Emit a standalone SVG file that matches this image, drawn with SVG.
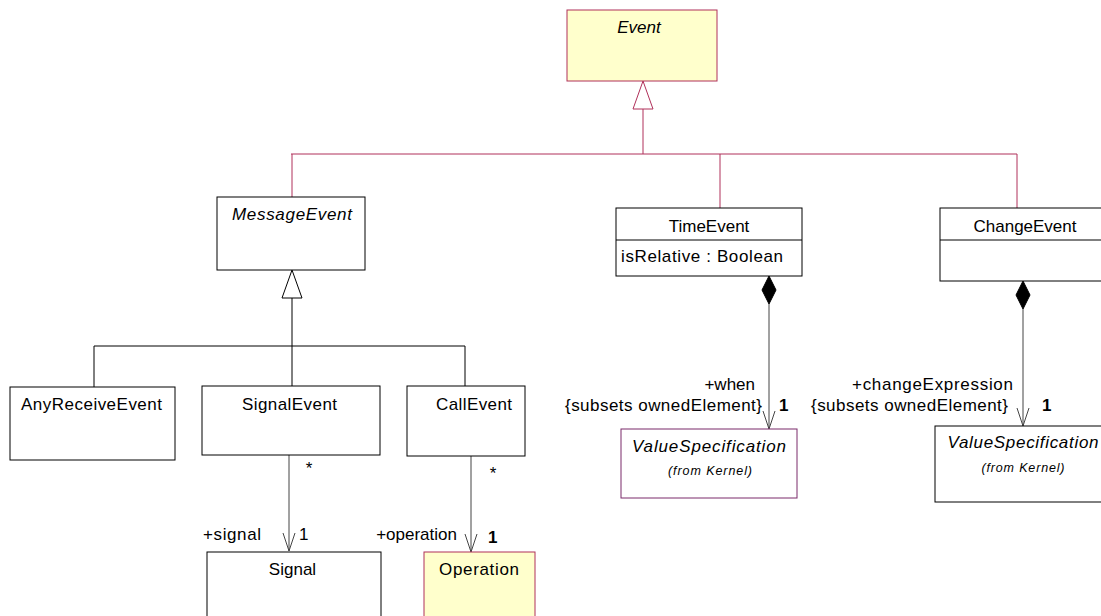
<svg xmlns="http://www.w3.org/2000/svg" width="1101" height="616" viewBox="0 0 1101 616">
<style>
text{font-family:"Liberation Sans",Arial,sans-serif;font-size:17px;fill:#000}
.it{font-style:italic}
.sm{font-size:12.5px;font-style:italic}
.b{font-weight:bold}
.mid{text-anchor:middle}
.end{text-anchor:end}
.box{fill:#fff;stroke:#000;stroke-width:1}
.ybox{fill:#ffffcc;stroke:#b0305a;stroke-width:1}
.pbox{fill:#fff;stroke:#7a2a6a;stroke-width:1}
.gen{fill:none;stroke:#b0305a;stroke-width:1}
.genk{fill:none;stroke:#000;stroke-width:1}
.tri{fill:#fff;stroke:#b0305a;stroke-width:1}
.trik{fill:#fff;stroke:#000;stroke-width:1}
.asc{fill:none;stroke:#444;stroke-width:1}
.dia{fill:#000;stroke:#000}
</style>
<rect width="1101" height="616" fill="#fff"/>
<g id="connectors">
<path class="gen" d="M643 109V154M291 154H1017M292 154V197M720 154V208M1017 154V208"/>
<polygon class="tri" points="643,81 633,109 653,109"/>
<path class="genk" d="M292 298V346M94 346H465M94 346V387M292 346V386M465 346V386"/>
<polygon class="trik" points="292,270 282,298 302,298"/>
<path class="asc" d="M289 455V551M283 533L289 551L295 533"/>
<path class="asc" d="M471 456V552M465 534L471 552L477 534"/>
<polygon class="dia" points="769,276 776,290 769,304 762,290"/>
<path class="asc" d="M769 304V429M763 411L769 429L775 411"/>
<polygon class="dia" points="1023,281 1030,295 1023,309 1016,295"/>
<path class="asc" d="M1023 309V426M1017 408L1023 426L1029 408"/>
<text x="309" y="474" class="mid">*</text>
<text x="493" y="479" class="mid">*</text>
<text x="203" y="540" textLength="58">+signal</text>
<text x="299" y="540">1</text>
<text x="457" y="540" class="end">+operation</text>
<text x="488" y="543" class="b">1</text>
<text x="755" y="390" class="end">+when</text>
<text x="762" y="411" class="end" textLength="197">{subsets ownedElement}</text>
<text x="779" y="411" class="b">1</text>
<text x="1013" y="390" class="end" textLength="161">+changeExpression</text>
<text x="1008" y="411" class="end" textLength="197">{subsets ownedElement}</text>
<text x="1042" y="411" class="b">1</text>
</g>
<g id="event">
<rect class="ybox" x="567" y="10" width="150" height="71"/>
<text x="639" y="33" class="it mid">Event</text>
</g>
<g id="messageevent">
<rect class="box" x="217" y="197" width="148" height="73"/>
<text x="292" y="220" class="it mid" textLength="120">MessageEvent</text>
</g>
<g id="timeevent">
<rect class="box" x="616" y="208" width="186" height="68"/>
<line x1="616" y1="240" x2="802" y2="240" stroke="#000"/>
<text x="709" y="232" class="mid">TimeEvent</text>
<text x="621" y="262" textLength="162">isRelative : Boolean</text>
</g>
<g id="changeevent">
<rect class="box" x="940" y="208" width="170" height="73"/>
<line x1="940" y1="240" x2="1110" y2="240" stroke="#000"/>
<text x="1025" y="232" class="mid">ChangeEvent</text>
</g>
<g id="anyreceiveevent">
<rect class="box" x="10" y="387" width="165" height="73"/>
<text x="91.5" y="410" class="mid" textLength="141">AnyReceiveEvent</text>
</g>
<g id="signalevent">
<rect class="box" x="202" y="386" width="178" height="69"/>
<text x="289.5" y="410" class="mid" textLength="95">SignalEvent</text>
</g>
<g id="callevent">
<rect class="box" x="407" y="386" width="118" height="70"/>
<text x="474" y="410" class="mid" textLength="76">CallEvent</text>
</g>
<g id="signal">
<rect class="box" x="207" y="552" width="174" height="80"/>
<text x="292.5" y="575" class="mid">Signal</text>
</g>
<g id="operation">
<rect class="ybox" x="424" y="552" width="111" height="80"/>
<text x="479" y="575" class="mid" textLength="80">Operation</text>
</g>
<g id="valuespec1">
<rect class="pbox" x="621" y="429" width="176" height="69"/>
<text x="709" y="452" class="it mid" textLength="154">ValueSpecification</text>
<text x="710" y="475" class="sm mid" textLength="84">(from Kernel)</text>
</g>
<g id="valuespec2">
<rect class="box" x="935" y="426" width="175" height="76"/>
<text x="1023" y="448" class="it mid" textLength="151">ValueSpecification</text>
<text x="1023" y="472" class="sm mid" textLength="83">(from Kernel)</text>
</g>
</svg>
